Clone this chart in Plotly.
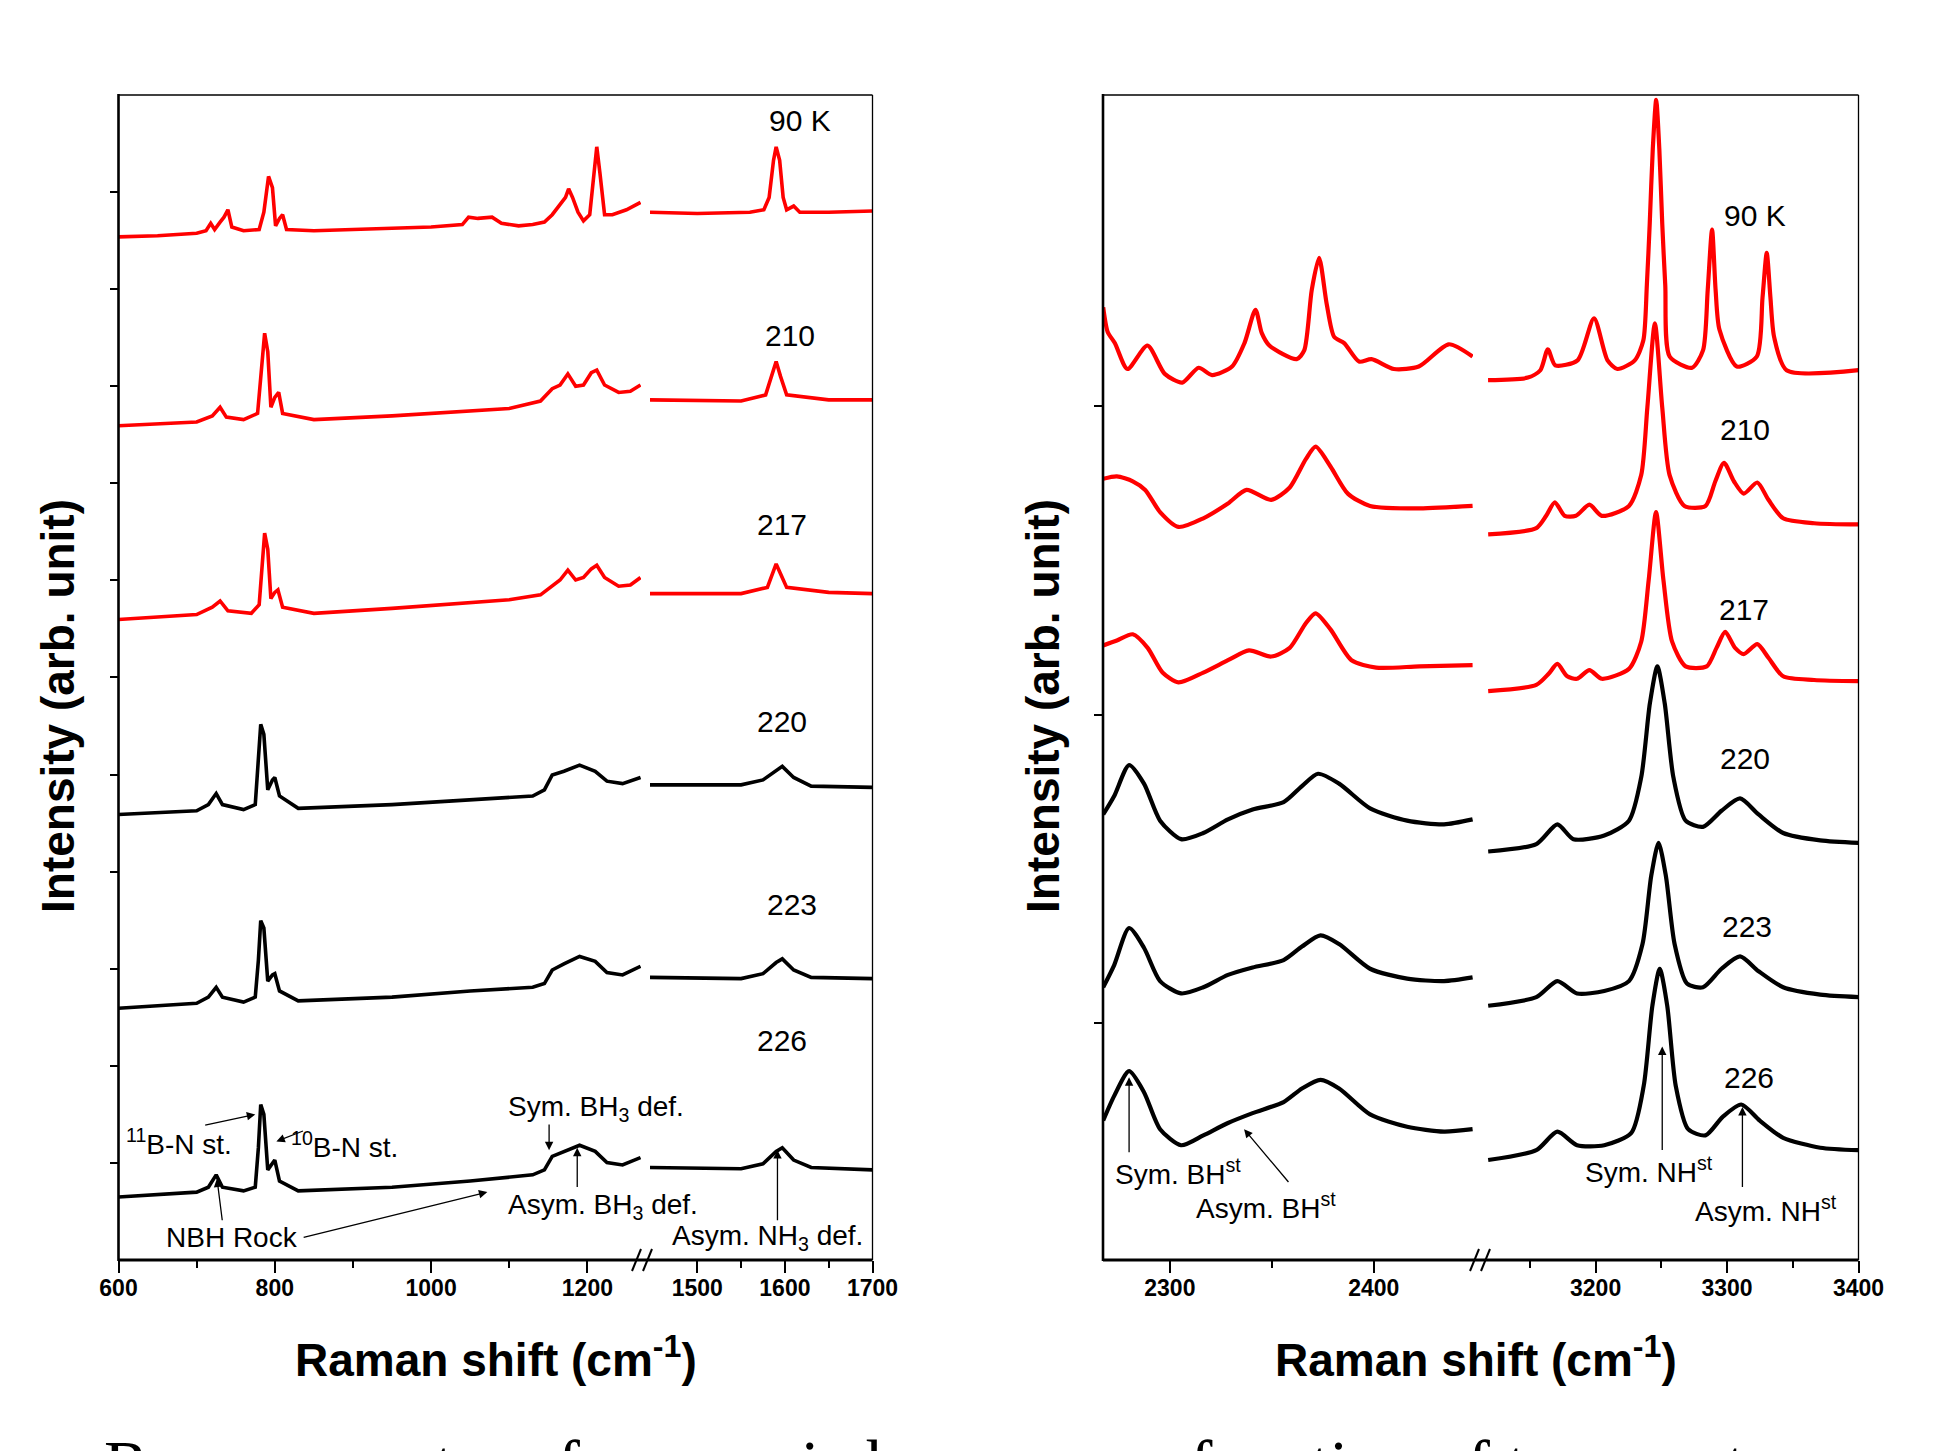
import plotly.graph_objects as go

# ---------------- data: Raman shift (cm-1) vs stacked intensity (arb. unit) ----------------
# Left panel, low-frequency segment (600-1270 cm-1)
L90_A = [(600,829),(650,830),(700,832),(712,834),(718,840),(723,835),(730,841),(735,845),(740,851),(745,837),
         (760,834),(780,835),(786,849),(792,878),(797,869),(801,838),(806,844),(810,847),(815,835),(850,834),
         (900,835),(950,836),(1000,837),(1040,839),(1048,845),(1060,844),(1078,845),(1090,840),(1112,838),
         (1130,839),(1145,841),(1155,847),(1165,855),(1172,861),(1176,868),(1181,861),(1188,849),(1195,842),
         (1203,847),(1208,881),(1212,902),(1216,881),(1222,847),(1232,847),(1250,851),(1268,857)]
L210_A = [(600,676),(700,679),(720,684),(730,691),(738,683),(760,681),(778,686),(783,721),(787,751),(791,736),
          (795,691),(800,699),(805,703),(810,686),(850,681),(950,684),(1050,688),(1100,690),(1140,696),(1155,706),
          (1165,709),(1175,718),(1185,708),(1195,709),(1205,719),(1212,721),(1222,709),(1240,703),(1255,704),(1268,709)]
L217_A = [(600,519),(700,523),(720,529),(730,534),(740,526),(770,524),(780,531),(784,566),(787,589),(791,576),
          (795,536),(800,541),(804,543),(810,529),(850,524),(950,528),(1050,533),(1100,535),(1140,539),(1155,546),
          (1165,551),(1175,559),(1185,551),(1195,553),(1205,560),(1212,563),(1222,553),(1240,546),(1255,547),(1268,553)]
L220_A = [(600,361),(700,364),(715,369),(725,378),(733,369),(760,365),(775,369),(779,401),(782,434),(786,426),
          (791,381),(797,389),(800,391),(806,376),(830,366),(950,369),(1050,373),(1130,376),(1145,381),(1155,393),
          (1170,396),(1190,401),(1210,396),(1225,388),(1245,386),(1268,391)]
L223_A = [(600,204),(700,208),(715,213),(725,221),(733,213),(760,209),(775,213),(779,243),(782,275),(786,269),
          (791,226),(797,231),(800,232),(806,218),(830,210),(950,213),(1050,218),(1130,221),(1145,224),(1155,235),
          (1170,240),(1190,246),(1210,242),(1225,233),(1245,231),(1268,238)]
L226_A = [(600,51),(700,55),(715,59),(725,69),(733,59),(760,56),(775,59),(779,91),(782,126),(786,118),
          (791,73),(797,79),(800,81),(806,64),(830,56),(950,59),(1050,64),(1130,69),(1145,73),(1155,84),
          (1170,88),(1190,93),(1210,88),(1225,79),(1245,77),(1268,83)]
# Left panel, NH3 deformation segment (1445-1700 cm-1)
L90_B = [(1446,849),(1500,848),(1560,849),(1576,851),(1582,861),(1587,891),(1590,902),(1594,891),(1598,861),
         (1602,851),(1610,854),(1617,849),(1650,849),(1700,850)]
L210_B = [(1446,697),(1550,696),(1578,701),(1585,716),(1590,728),(1595,716),(1602,701),(1650,697),(1700,697)]
L217_B = [(1446,540),(1550,540),(1580,545),(1586,556),(1590,564),(1595,556),(1602,545),(1650,541),(1700,540)]
L220_B = [(1446,385),(1550,385),(1575,389),(1590,397),(1597,400),(1610,391),(1630,384),(1700,383)]
L223_B = [(1446,229),(1550,228),(1575,232),(1590,241),(1597,244),(1610,235),(1630,229),(1700,228)]
L226_B = [(1446,75),(1550,74),(1575,78),(1590,88),(1597,91),(1610,81),(1630,75),(1700,73)]

# Right panel, BH stretching segment (2267-2449 cm-1)
R90_A = [(2267.3,772),(2269.5,752),(2273.0,743),(2279.2,722),(2289.0,741),(2297.5,718),(2306.1,711),(2314.1,723),
         (2320.7,717),(2330.5,724),(2336.6,743),(2342.0,770),(2345.1,751),(2348.8,741),(2362.2,730),(2365.9,737),
         (2369.6,786),(2373.2,812),(2376.9,775),(2380.6,748),(2385.5,743),(2392.8,728),(2398.9,730),(2409.9,722),
         (2422.1,724),(2436.8,742),(2448.5,732)]
R210_A = [(2267.3,633),(2274.0,635),(2281.8,631),(2287.9,624),(2295.2,606),(2304.2,594),(2316.4,601),(2328.5,613),
          (2337.6,624),(2349.7,616),(2358.8,626),(2366.7,649),(2371.5,659),(2378.8,643),(2387.3,621),(2398.2,611),
          (2422.4,609),(2448.5,611)]
R217_A = [(2267.3,498),(2274.0,502),(2281.8,507),(2289.1,496),(2296.4,476),(2304.2,468),(2316.4,476),(2328.5,486),
          (2338.8,494),(2349.7,489),(2358.8,496),(2366.7,516),(2371.5,524),(2378.8,511),(2389.1,486),(2401.2,480),
          (2422.4,481),(2448.5,482)]
R220_A = [(2267.3,361),(2272.7,376),(2280.0,401),(2287.3,386),(2295.2,356),(2305.5,341),(2316.4,346),(2328.5,357),
          (2340.6,365),(2355.8,371),(2364.8,384),(2372.7,394),(2383.0,386),(2398.2,366),(2416.4,356),(2434.5,353),
          (2448.5,357)]
R223_A = [(2267.3,221),(2272.7,239),(2280.0,269),(2287.3,253),(2295.2,226),(2305.5,216),(2316.4,221),(2328.5,231),
          (2340.6,237),(2355.8,243),(2364.8,254),(2373.9,263),(2383.0,256),(2398.2,236),(2416.4,228),(2434.5,226),
          (2448.5,229)]
R226_A = [(2267.3,113),(2272.7,133),(2280.0,153),(2287.3,136),(2295.2,106),(2305.5,93),(2316.4,101),(2328.5,111),
          (2340.6,119),(2355.8,128),(2364.8,139),(2373.9,146),(2383.0,139),(2398.2,118),(2416.4,108),(2434.5,104),
          (2448.5,106)]
# Right panel, NH stretching segment (3117-3400 cm-1)
R90_B = [(3118.2,713),(3148.5,715),(3158.0,721),(3163.7,738),(3169.3,725),(3186.3,729),(3198.8,763),(3209.1,729),
         (3216.6,722),(3229.8,729),(3236.3,745),(3239.0,790),(3241.2,840),(3243.5,900),(3246.1,940),(3248.5,900),
         (3250.7,840),(3253.0,790),(3256.4,732),(3273.4,723),(3281.7,737),(3285.3,786),(3288.6,835),(3291.3,786),
         (3294.2,754),(3307.4,724),(3322.6,732),(3327.0,780),(3330.2,816),(3333.0,780),(3335.8,748),(3345.3,721),
         (3400.0,721)]
R210_B = [(3118.3,588),(3154.9,593),(3162.4,603),(3169.0,614),(3176.5,603),(3185.0,603),(3195.3,612),(3204.7,603),
          (3225.4,611),(3234.7,636),(3239.4,691),(3245.1,759),(3250.7,691),(3256.3,636),(3267.6,611),(3283.6,611),
          (3291.1,631),(3297.7,646),(3305.2,631),(3312.7,621),(3323.0,630),(3331.5,616),(3342.7,601),(3366.2,597),
          (3400.0,596)]
R217_B = [(3118.3,461),(3154.9,466),(3164.3,475),(3170.9,483),(3178.4,473),(3185.9,471),(3195.3,478),(3204.7,471),
          (3225.4,479),(3234.7,501),(3240.4,551),(3246.0,606),(3251.6,551),(3258.2,501),(3268.5,481),(3284.5,481),
          (3292.0,496),(3298.6,509),(3306.1,496),(3312.7,491),(3323.0,499),(3331.5,488),(3342.7,473),(3366.2,470),
          (3400.0,469)]
R220_B = [(3118.3,331),(3154.9,337),(3170.9,353),(3183.1,341),(3206.6,344),(3225.4,356),(3234.7,391),(3241.3,451),
          (3247.0,481),(3252.6,451),(3259.2,391),(3268.5,356),(3281.7,351),(3295.8,364),(3309.9,374),(3324.0,361),
          (3342.7,346),(3370.9,340),(3400.0,338)]
R223_B = [(3118.3,206),(3154.9,213),(3170.9,226),(3185.9,216),(3206.6,218),(3225.4,226),(3235.7,256),(3242.3,311),
          (3247.9,338),(3253.5,311),(3260.1,256),(3269.5,224),(3281.7,221),(3295.8,236),(3309.9,246),(3324.0,234),
          (3342.7,221),(3370.9,215),(3400.0,213)]
R226_B = [(3118.3,81),(3154.9,89),(3170.9,104),(3185.9,93),(3206.6,93),(3227.2,103),(3236.6,141),(3243.2,206),
          (3248.8,236),(3254.5,206),(3261.0,141),(3270.4,106),(3283.6,101),(3296.7,116),(3310.8,126),(3324.9,113),
          (3342.7,99),(3370.9,91),(3400.0,89)]

TEMPS = ["90 K", "210", "217", "220", "223", "226"]
COLORS = ["#ff0000", "#ff0000", "#ff0000", "#000000", "#000000", "#000000"]
LEFT_A = [L90_A, L210_A, L217_A, L220_A, L223_A, L226_A]
LEFT_B = [L90_B, L210_B, L217_B, L220_B, L223_B, L226_B]
RIGHT_A = [R90_A, R210_A, R217_A, R220_A, R223_A, R226_A]
RIGHT_B = [R90_B, R210_B, R217_B, R220_B, R223_B, R226_B]

# temperature label positions (data coordinates of each panel)
LEFT_LABEL_POS = [(1617, 923), (1606, 749), (1597, 596), (1597, 436), (1608, 288), (1597, 178)]
RIGHT_LABEL_POS = [(3321, 846), (3314, 673), (3313, 527), (3314, 406), (3315, 270), (3317, 148)]

# tick values
XA_MAJOR, XA_MINOR = [600, 800, 1000, 1200], [700, 900, 1100]
XB_MAJOR, XB_MINOR = [1500, 1600, 1700], [1550, 1650]
XC_MAJOR, XC_MINOR = [2300, 2400], [2350]
XD_MAJOR, XD_MINOR = [3200, 3300, 3400], [3150, 3250, 3350]
YL_TICKS = [78.67 * k for k in range(1, 12)]
YR_TICKS = [192, 442, 692]

# ---------------- figure ----------------
W, H = 1935, 1451
def px(x): return x / W
def py(y): return 1 - y / H

SANS = "Liberation Sans, Arial, Helvetica, sans-serif"

fig = go.Figure()

def add_series(data, xa, ya, color, width, shape):
    fig.add_trace(go.Scatter(
        x=[p[0] for p in data], y=[p[1] for p in data], xaxis=xa, yaxis=ya,
        mode="lines", line=dict(color=color, width=width, shape=shape,
                                smoothing=0.7 if shape == "spline" else None),
        hoverinfo="skip", showlegend=False))

for i in range(6):
    add_series(LEFT_A[i], "x", "y", COLORS[i], 3.6, "linear")
    add_series(LEFT_B[i], "x2", "y", COLORS[i], 3.6, "linear")
    add_series(RIGHT_A[i], "x3", "y2", COLORS[i], 4.2, "spline")
    add_series(RIGHT_B[i], "x4", "y2", COLORS[i], 4.2, "spline")

tickfont = dict(family=SANS, size=23, color="black", weight="bold")

def xax(domain, rng, major, minor, anchor):
    return dict(domain=domain, range=rng, anchor=anchor, tickvals=major, ticks="outside",
                ticklen=12, tickwidth=2, tickcolor="black", tickfont=tickfont, automargin=False,
                ticklabelstandoff=-5,
                minor=dict(tickvals=minor, ticks="outside", ticklen=7, tickwidth=2, tickcolor="black"),
                showline=False, showgrid=False, zeroline=False, fixedrange=True)

def yax(rng, ticks, anchor):
    return dict(domain=[py(1260), py(95)], range=rng, anchor=anchor, tickvals=ticks, automargin=False,
                ticks="outside", ticklen=8, tickwidth=1.5, tickcolor="black",
                showticklabels=False, showline=False, showgrid=False, zeroline=False, fixedrange=True)

fig.update_layout(
    template="none",
    width=W, height=H, margin=dict(l=0, r=0, t=0, b=0, pad=0), autosize=False,
    paper_bgcolor="white", plot_bgcolor="rgba(0,0,0,0)", showlegend=False,
    xaxis=xax([px(118.5), px(641)], [600, 1268.6], XA_MAJOR, XA_MINOR, "y"),
    xaxis2=xax([px(650), px(872.5)], [1446, 1700], XB_MAJOR, XB_MINOR, "y"),
    xaxis3=xax([px(1103), px(1473)], [2267.2, 2448.7], XC_MAJOR, XC_MINOR, "y2"),
    xaxis4=xax([px(1487), px(1858.5)], [3117.4, 3400], XD_MAJOR, XD_MINOR, "y2"),
    yaxis=yax([0, 944], YL_TICKS, "x"),
    yaxis2=yax([0, 944], YR_TICKS, "x3"),
)

# frames and axis breaks
shapes = []
def line(x0, y0, x1, y1, w):
    shapes.append(dict(type="line", xref="paper", yref="paper", x0=px(x0), y0=py(y0),
                       x1=px(x1), y1=py(y1), line=dict(color="black", width=w)))
for (l, r) in [(118.5, 872.5), (1103, 1858.5)]:
    line(l, 95, r, 95, 1.3)
    line(r, 95, r, 1260, 1.3)
    line(l, 94, l, 1261, 2.6)
    line(l, 1260, r, 1260, 2.8)
for bx in [632, 643, 1470, 1481]:
    line(bx, 1271, bx + 9, 1249, 2)
fig.update_layout(shapes=shapes)

ann = []
def text(x, y, s, xr, yr, size=28, **kw):
    ann.append(dict(x=x, y=y, xref=xr, yref=yr, text=s, showarrow=False, xanchor="center",
                    yanchor="middle", font=dict(family=SANS, size=size, color="black"), **kw))
def arrow(xh, yh, xt, yt, xr, yr):
    ann.append(dict(x=xh, y=yh, ax=xt, ay=yt, xref=xr, yref=yr, axref=xr, ayref=yr, text="",
                    showarrow=True, arrowhead=2, arrowsize=1.3, arrowwidth=1.3, arrowcolor="black",
                    standoff=0, startstandoff=0))

for i, t in enumerate(TEMPS):
    text(LEFT_LABEL_POS[i][0], LEFT_LABEL_POS[i][1], t, "x2", "y", size=30)
    text(RIGHT_LABEL_POS[i][0], RIGHT_LABEL_POS[i][1], t, "x4", "y2", size=30)

# left panel band assignments
text(677, 96, "<sup>11</sup>B-N st.", "x", "y")
arrow(775, 118, 709, 109, "x", "y")
text(889, 93, "<sup>10</sup>B-N st.", "x", "y")
arrow(802, 96, 838, 105, "x", "y")
text(745, 18, "NBH Rock", "x", "y")
arrow(726, 66, 733, 31, "x", "y")
arrow(1072, 55, 835, 18, "x", "y")
text(1211, 123, "Sym. BH<sub>3</sub> def.", "x", "y")
arrow(1151, 89, 1151, 111, "x", "y")
text(1220, 43, "Asym. BH<sub>3</sub> def.", "x", "y")
arrow(1187, 91, 1187, 58, "x", "y")
text(1580, 18, "Asym. NH<sub>3</sub> def.", "x2", "y")
arrow(1591.5, 89, 1591.5, 31, "x2", "y")
# right panel band assignments
text(2304, 71, "Sym. BH<sup>st</sup>", "x3", "y2")
arrow(2280, 148, 2280, 86, "x3", "y2")
text(2347, 44, "Asym. BH<sup>st</sup>", "x3", "y2")
arrow(2336.4, 106, 2358.8, 62, "x3", "y2")
text(3241, 73, "Sym. NH<sup>st</sup>", "x4", "y2")
arrow(3250.7, 173, 3250.7, 88, "x4", "y2")
text(3330, 41, "Asym. NH<sup>st</sup>", "x4", "y2")
arrow(3311.7, 124, 3311.7, 58, "x4", "y2")

# axis titles
TITLE_FONT = dict(family=SANS, size=46, color="black", weight="bold")
for cx in [496, 1476]:
    ann.append(dict(x=px(cx), y=py(1357), xref="paper", yref="paper", showarrow=False,
                    xanchor="center", yanchor="middle",
                    text="Raman shift (cm<sup>-1</sup>)", font=TITLE_FONT))
for cx in [58, 1043]:
    ann.append(dict(x=px(cx), y=py(706), xref="paper", yref="paper", showarrow=False,
                    xanchor="center", yanchor="middle",
                    text="Intensity (arb. unit)", textangle=-90, font=TITLE_FONT))
# cut-off caption at page bottom
ann.append(dict(x=px(102), y=py(1424), xref="paper", yref="paper", xanchor="left", yanchor="top",
                showarrow=False, text="Raman spectra of ammonia borane as a function of temperature",
                font=dict(family="Liberation Serif, Times New Roman, serif", size=68, color="black")))

fig.update_layout(annotations=ann)
fig.write_html("out.html", config={"displayModeBar": False},
               post_script="document.body.style.margin='0px';document.body.style.overflow='hidden';")
